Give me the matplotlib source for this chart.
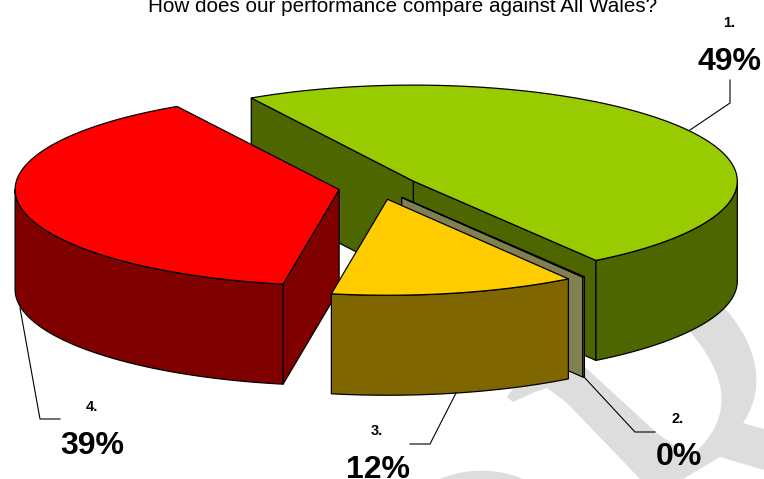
import matplotlib
matplotlib.use('Agg')
import matplotlib.pyplot as plt
import numpy as np
from matplotlib.patches import Polygon

plt.rcParams['font.family'] = ['Liberation Sans', 'DejaVu Sans']

title = 'How does our performance compare against All Wales?'
categories = ['1.', '2.', '3.', '4.']
values = [48.8, 0.1, 12.2, 38.9]
top_colors = ['#99CC00', '#808050', '#FFCC00', '#FF0000']
side_colors = ['#4D6600', '#808050', '#806600', '#800000']
# back to front
draw_order = [0, 1, 3, 2]

# pie geometry in pixels of the picture
cx, cy = 379, 187.5
rx, ry = 324, 96
depth = 100
explode = 0.125
start = 120

fig = plt.figure(figsize=(7.64, 4.79), dpi=100)
ax = fig.add_axes([0, 0, 1, 1])
ax.set_xlim(0, 764)
ax.set_ylim(479, 0)
ax.axis('off')


def bezier(p0, p1, p2, p3):
    t = np.linspace(0, 1, 40)[:, None]
    p0, p1, p2, p3 = [np.array(p, dtype=float) for p in (p0, p1, p2, p3)]
    return (1 - t) ** 3 * p0 + 3 * (1 - t) ** 2 * t * p1 + 3 * (1 - t) * t ** 2 * p2 + t ** 3 * p3


# watermark behind the pie
grey = '#DDDDDD'
band = [(507, 397), (513, 402), (535, 392), (547, 388), (567, 403), (640, 479), (683, 479), (720, 457), (764, 470),
        (764, 429), (743, 423)]
outer = bezier((743, 423), (775, 375), (745, 320), (700, 285))
inner = bezier((670, 310), (710, 350), (752, 405), (690, 457))
rest = [(657, 433), (585, 367), (560, 345), (530, 365)]
mark1 = np.vstack([band, outer, inner, rest])
mark2 = bezier((440, 479), (465, 468), (498, 468), (523, 479))
ax.add_patch(Polygon(mark1, closed=True, fc=grey, ec='none', zorder=1))
ax.add_patch(Polygon(mark2, closed=True, fc=grey, ec='none', zorder=1))

# angles of the slices, going clockwise from the start
shares = np.array(values) / sum(values) * 360
ends = start - np.cumsum(shares)
starts = ends + shares


def rim(x0, y0, a, b):
    t = np.radians(np.linspace(a, b, 200))
    return np.column_stack([x0 + rx * np.cos(t), y0 - ry * np.sin(t)])


def draw(points, color, z):
    ax.add_patch(Polygon(points, closed=True, fc=color, ec='black', lw=0.9, joinstyle='round', zorder=z))


for z, i in enumerate(draw_order):
    hi = starts[i]
    lo = ends[i]
    mid = np.radians((hi + lo) / 2)
    x0 = cx + explode * rx * np.cos(mid)
    y0 = cy - explode * ry * np.sin(mid)
    z = z + 2
    for ang, normal in [(lo, lo - 90), (hi, hi + 90)]:
        if np.sin(np.radians(normal)) < 0:
            ex = x0 + rx * np.cos(np.radians(ang))
            ey = y0 - ry * np.sin(np.radians(ang))
            draw([(x0, y0), (ex, ey), (ex, ey + depth), (x0, y0 + depth)], side_colors[i], z)
    # the part of the outer wall that faces the viewer
    for k in [-1, 0]:
        a = max(lo, 180 + 360 * k)
        b = min(hi, 360 + 360 * k)
        if a < b:
            edge = rim(x0, y0, a, b)
            draw(np.vstack([edge, (edge + [0, depth])[::-1]]), side_colors[i], z)
    draw(np.vstack([[(x0, y0)], rim(x0, y0, lo, hi)]), top_colors[i], z)

ax.text(403, 11.7, title, ha='center', va='baseline', fontsize=14.9, color='black', zorder=10)

# labels and leader lines
name_pos = [(729, 27), (678, 423), (377, 435), (92, 411)]
pct_pos = [(730, 70), (679, 465), (377.5, 478), (92.5, 454)]
leaders = [[(730, 80), (730, 103), (690, 130)],
           [(584, 377), (635, 432), (655, 432)],
           [(456, 393), (430, 444), (410, 444)],
           [(20, 308), (40, 419), (60, 419)]]
pct = np.array(values) / sum(values) * 100
for i in range(4):
    ax.text(name_pos[i][0], name_pos[i][1], categories[i], ha='center', va='baseline', fontsize=10.5, fontweight='bold', zorder=10)
    ax.text(pct_pos[i][0], pct_pos[i][1], '%d%%' % round(pct[i]), ha='center', va='baseline', fontsize=23, fontweight='bold', zorder=10)
    xs = [p[0] for p in leaders[i]]
    ys = [p[1] for p in leaders[i]]
    ax.plot(xs, ys, color='black', lw=0.8, zorder=9)

fig.savefig('out.png', dpi=100)
